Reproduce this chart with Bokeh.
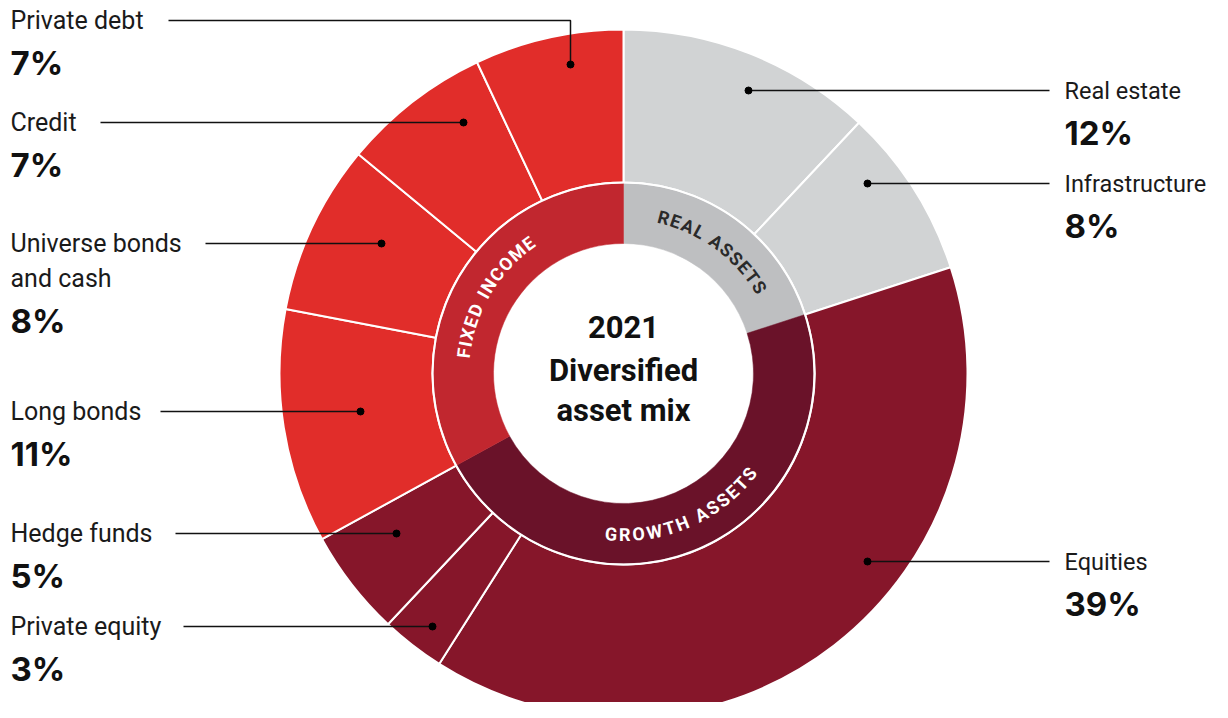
import math
from bokeh.plotting import figure
from bokeh.models import Range1d
from bokeh.core.properties import value
from bokeh.embed import file_html
from bokeh.resources import INLINE

# ---------------- data ----------------
slice_names = ["Real estate", "Infrastructure", "Equities", "Private equity", "Hedge funds",
               "Long bonds", "Universe bonds and cash", "Credit", "Private debt"]
slice_values = [12, 8, 39, 3, 5, 11, 8, 7, 7]
slice_groups = ["REAL ASSETS", "REAL ASSETS", "GROWTH ASSETS", "GROWTH ASSETS", "GROWTH ASSETS",
                "FIXED INCOME", "FIXED INCOME", "FIXED INCOME", "FIXED INCOME"]
group_names = ["REAL ASSETS", "GROWTH ASSETS", "FIXED INCOME"]
group_values = [20, 47, 33]
center_title = ["2021", "Diversified", "asset mix"]

# ---------------- styles ----------------
outer_colors = {"REAL ASSETS": "#D1D3D4", "GROWTH ASSETS": "#86162A", "FIXED INCOME": "#E12D2A"}
inner_colors = {"REAL ASSETS": "#BEBFC1", "GROWTH ASSETS": "#6A1229", "FIXED INCOME": "#C1272F"}
ring_text_colors = {"REAL ASSETS": "#2A2A2A", "GROWTH ASSETS": "#FFFFFF", "FIXED INCOME": "#FFFFFF"}
FONT = "Roboto"
PCT_FONT = "Inter"
BASE_SHIFT = 0.35  # em correction for baseline placement

W, H = 1212, 702
def sy(Y):  # reference-pixel Y -> data y
    return 718 - Y

CX, CY = 623, sy(373)
R_HOLE, R_MID, R_OUT = 130, 191, 344
R_TEXT = 161

RIGHT_X = 1064
label_layout = {
    "Private debt": dict(side="L", row=20, line_x=168, dot=(570, 64), lines=["Private debt"]),
    "Credit": dict(side="L", row=122, line_x=100, dot=(463, 122), lines=["Credit"]),
    "Universe bonds and cash": dict(side="L", row=243, line_x=205, dot=(381, 243),
                                    lines=["Universe bonds", "and cash"]),
    "Long bonds": dict(side="L", row=411, line_x=160, dot=(360, 411), lines=["Long bonds"]),
    "Hedge funds": dict(side="L", row=533, line_x=175, dot=(396, 533), lines=["Hedge funds"]),
    "Private equity": dict(side="L", row=626, line_x=183, dot=(432, 626), lines=["Private equity"]),
    "Real estate": dict(side="R", row=90, line_x=1049, dot=(748, 90), lines=["Real estate"]),
    "Infrastructure": dict(side="R", row=183, line_x=1049, dot=(867, 183), lines=["Infrastructure"]),
    "Equities": dict(side="R", row=561, line_x=1049, dot=(867, 561), lines=["Equities"]),
}

p = figure(width=W, height=H, output_backend="svg", toolbar_location=None,
           x_range=Range1d(0, W), y_range=Range1d(718 - H, 718),
           x_axis_type=None, y_axis_type=None, min_border=0, title=None)
p.grid.visible = False
p.outline_line_color = None
p.background_fill_color = "white"
p.border_fill_color = "white"

# ---------------- outer ring ----------------
total = sum(slice_values)
starts, ends = [], []
acc = 0.0
for v in slice_values:
    starts.append(math.radians(90 - acc / total * 360))
    acc += v
    ends.append(math.radians(90 - acc / total * 360))
p.annular_wedge(x=[CX] * len(slice_values), y=[CY] * len(slice_values),
                inner_radius=R_MID, outer_radius=R_OUT,
                start_angle=starts, end_angle=ends, direction="clock",
                fill_color=[outer_colors[g] for g in slice_groups],
                line_color="white", line_width=2)

# ---------------- inner ring ----------------
gtot = sum(group_values)
gstarts, gends, gmids = [], [], []
acc = 0.0
for v in group_values:
    a0 = 90 - acc / gtot * 360
    acc += v
    a1 = 90 - acc / gtot * 360
    gstarts.append(math.radians(a0))
    gends.append(math.radians(a1))
    gmids.append((a0 + a1) / 2)
p.annular_wedge(x=[CX] * 3, y=[CY] * 3, inner_radius=R_HOLE, outer_radius=R_MID - 1,
                start_angle=gstarts, end_angle=gends, direction="clock",
                fill_color=[inner_colors[g] for g in group_names],
                line_color=[inner_colors[g] for g in group_names], line_width=0.5)
p.circle(x=[CX], y=[CY], radius=R_MID, fill_color=None, line_color="white", line_width=2)

# ---------------- curved ring labels ----------------
cap_w = {"A": .70, "C": .67, "D": .68, "E": .58, "F": .56, "G": .70, "H": .72, "I": .29,
         "L": .55, "M": .88, "N": .72, "O": .71, "R": .65, "S": .62, "T": .62, "W": .92,
         "X": .66, " ": .30}
FS = 18
TRACK = 1.5
cx_, cy_, ct, ca, cc = [], [], [], [], []
for name, mid in zip(group_names, gmids):
    m = mid % 360
    clockwise = 0 < m < 200
    ws = [cap_w[c] * FS + TRACK for c in name]
    tot = sum(ws) - TRACK
    s = 0.0
    for c, w in zip(name, ws):
        off = s + (w - TRACK) / 2 - tot / 2
        s += w
        if clockwise:
            th = math.radians(m) - off / R_TEXT
            rot = th - math.pi / 2
        else:
            th = math.radians(m) + off / R_TEXT
            rot = th + math.pi / 2
        if c == " ":
            continue
        cx_.append(CX + R_TEXT * math.cos(th))
        cy_.append(CY + R_TEXT * math.sin(th))
        ct.append(c)
        ca.append(rot)
        cc.append(ring_text_colors[name])
p.text(x=cx_, y=cy_, text=ct, angle=ca, text_color=cc, text_align="center",
       text_baseline="middle", text_font=value(FONT), text_font_style="bold",
       text_font_size=f"{FS}px")

def put_text(x, base_y, txt, font, size, bold=False, color="#1A1A1A", align="left"):
    p.text(x=[x], y=[sy(base_y - BASE_SHIFT * size)], text=[txt], text_align=align,
           text_baseline="alphabetic", text_font=value(font),
           text_font_style="bold" if bold else "normal",
           text_font_size=f"{size}px", text_color=color)

# ---------------- center title ----------------
for t, b in zip(center_title, [337, 381, 421]):
    put_text(CX, b, t, FONT, 31, bold=True, color="#111111", align="center")

# ---------------- leaders and labels ----------------
for name, v in zip(slice_names, slice_values):
    L = label_layout[name]
    row = L["row"]
    dx, dy = L["dot"]
    if L["side"] == "L":
        xs = [L["line_x"], dx, dx]
        ys = [sy(row), sy(row), sy(dy)]
        tx, fsz = 10, 25
    else:
        xs = [dx, L["line_x"]]
        ys = [sy(dy), sy(row)]
        tx, fsz = RIGHT_X, 23.5
    p.line(xs, ys, line_color="#111111", line_width=1.5)
    p.scatter([dx], [sy(dy)], size=7, color="#000000")
    base = row + 9
    for i, t in enumerate(L["lines"]):
        put_text(tx, base + 35 * i, t, FONT, fsz)
    pb = base + 35 * (len(L["lines"]) - 1) + 45
    put_text(tx, pb, f"{v}%", PCT_FONT, 33, bold=True, color="#111111")

open("out.html", "w").write(file_html(p, INLINE))
